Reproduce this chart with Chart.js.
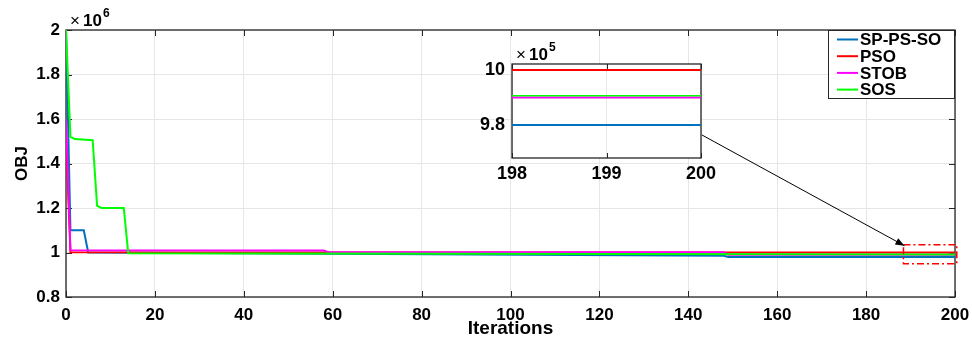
<!DOCTYPE html>
<html>
<head>
<meta charset="utf-8">
<script src="https://cdn.jsdelivr.net/npm/chart.js@4.4.0/dist/chart.umd.min.js"></script>
<style>
    html, body { margin: 0; padding: 0; background: #fff; }
    #wrap { position: relative; width: 972px; height: 339px; }
    #mainChart { position: absolute; left: 0; top: 0; }
    #insetChart { position: absolute; left: 465px; top: 40px; }
</style>
</head>
<body>
<div id="wrap">
    <canvas id="mainChart" width="972" height="339"></canvas>
    <canvas id="insetChart" width="255" height="145"></canvas>
</div>
<script>
// Convergence curves (OBJ vs iterations)
const seriesNames = ['SP-PS-SO', 'PSO', 'STOB', 'SOS'];
const seriesColors = ['#0072BD', '#FF0000', '#FF00FF', '#00FF00'];

const spIters = [0, 1, 4, 5, 148, 149, 200];
const spObj = [2.0e6, 1.1e6, 1.1e6, 1.0e6, 0.985e6, 0.980e6, 0.980e6];

const psoIters = [0, 1, 200];
const psoObj = [1.52e6, 1.001e6, 1.000e6];

const stobIters = [0, 1, 58, 59, 148, 149, 200];
const stobObj = [1.6e6, 1.01e6, 1.009e6, 1.001e6, 1.001e6, 0.990e6, 0.990e6];

const sosIters = [0, 1, 2, 6, 7, 8, 13, 14, 200];
const sosObj = [2.0e6, 1.52e6, 1.51e6, 1.505e6, 1.21e6, 1.2e6, 1.2e6, 0.997e6, 0.9907e6];

// Axis ticks
const mainXTicks = [0, 20, 40, 60, 80, 100, 120, 140, 160, 180, 200];
const mainYTicks = [0.8e6, 1.0e6, 1.2e6, 1.4e6, 1.6e6, 1.8e6, 2.0e6];
const insetXTicks = [198, 199, 200];
const insetYTicks = [9.8e5, 10.0e5];

// Zoom box and arrow (main data coordinates)
const zoomBox = { x0: 188.4, x1: 200.4, y0: 0.95e6, y1: 1.035e6 };
const arrowFrom = { x: 142.9, y: 1.53e6 };

const FONT = "'Liberation Sans', Arial, Helvetica, sans-serif";
const AXIS_COLOR = '#262626';
const GRID_COLOR = '#e6e6e6';

function buildDatasets() {
    const iters = [spIters, psoIters, stobIters, sosIters];
    const objs = [spObj, psoObj, stobObj, sosObj];
    return seriesNames.map((name, i) => ({
        label: name,
        data: iters[i].map((x, j) => ({ x: x, y: objs[i][j] })),
        borderColor: seriesColors[i],
        backgroundColor: seriesColors[i],
        borderWidth: 2,
        pointRadius: 0,
        fill: false,
        tension: 0,
        order: seriesNames.length - i   // later series painted on top
    }));
}

function fixedTicks(list) {
    return function(scale) {
        scale.ticks = list.map(v => ({ value: v }));
    };
}

/**
 * MATLAB-like axes: white plot area, box and inward tick marks
 */
const matlabAxes = {
    id: 'matlabAxes',
    beforeDraw(chart) {
        const { ctx, chartArea: a } = chart;
        ctx.save();
        ctx.fillStyle = '#fff';
        ctx.fillRect(a.left, a.top, a.right - a.left, a.bottom - a.top);
        ctx.restore();
    },
    beforeDatasetsDraw(chart, args, opts) {
        const { ctx, chartArea: a, scales } = chart;
        const len = opts.tickLength || 5;
        ctx.save();
        ctx.strokeStyle = AXIS_COLOR;
        ctx.lineWidth = 1;
        ctx.beginPath();
        scales.x.ticks.forEach(t => {
            const px = Math.round(scales.x.getPixelForValue(t.value)) + 0.5;
            ctx.moveTo(px, a.bottom); ctx.lineTo(px, a.bottom - len);
            ctx.moveTo(px, a.top); ctx.lineTo(px, a.top + len);
        });
        scales.y.ticks.forEach(t => {
            const py = Math.round(scales.y.getPixelForValue(t.value)) + 0.5;
            ctx.moveTo(a.left, py); ctx.lineTo(a.left + len, py);
            ctx.moveTo(a.right, py); ctx.lineTo(a.right - len, py);
        });
        ctx.stroke();
        ctx.lineWidth = 1.3;
        ctx.strokeRect(a.left, a.top, a.right - a.left, a.bottom - a.top);
        ctx.restore();
    },
    afterDraw(chart, args, opts) {
        // exponent label, e.g. x10^6
        const { ctx, chartArea: a } = chart;
        const base = a.top - 4;
        ctx.save();
        ctx.fillStyle = '#000';
        ctx.textBaseline = 'alphabetic';
        ctx.textAlign = 'left';
        ctx.font = `17px ${FONT}`;
        ctx.fillText('\u00d7', a.left + 4, base);
        ctx.font = `bold 17px ${FONT}`;
        ctx.fillText('10', a.left + 17, base);
        const w = ctx.measureText('10').width;
        ctx.font = `bold 12px ${FONT}`;
        ctx.fillText(opts.exponent, a.left + 17 + w + 1, base - 9);
        ctx.restore();
    }
};

/**
 * Legend box in the upper right corner of the plot
 */
const boxLegend = {
    id: 'boxLegend',
    afterDraw(chart) {
        const { ctx, chartArea: a } = chart;
        const left = a.right - 127, top = a.top, w = 126, h = 68;
        ctx.save();
        ctx.fillStyle = '#fff';
        ctx.fillRect(left, top, w, h);
        ctx.strokeStyle = AXIS_COLOR;
        ctx.lineWidth = 1;
        ctx.strokeRect(left + 0.5, top + 0.5, w, h);
        ctx.font = `bold 17px ${FONT}`;
        ctx.textBaseline = 'middle';
        ctx.textAlign = 'left';
        chart.data.datasets.forEach((ds, i) => {
            const y = top + 9.5 + i * 16.7;
            ctx.strokeStyle = ds.borderColor;
            ctx.lineWidth = 2;
            ctx.beginPath();
            ctx.moveTo(left + 9, y);
            ctx.lineTo(left + 30, y);
            ctx.stroke();
            ctx.fillStyle = '#000';
            ctx.fillText(ds.label, left + 32, y + 1);
        });
        ctx.restore();
    }
};

/**
 * Red dash-dot zoom box and the arrow from the inset
 */
const zoomMarker = {
    id: 'zoomMarker',
    afterDraw(chart) {
        const { ctx, scales: { x, y } } = chart;
        const bx0 = x.getPixelForValue(zoomBox.x0), bx1 = x.getPixelForValue(zoomBox.x1);
        const by0 = y.getPixelForValue(zoomBox.y1), by1 = y.getPixelForValue(zoomBox.y0);
        ctx.save();
        ctx.strokeStyle = '#FF0000';
        ctx.lineWidth = 1.5;
        ctx.setLineDash([7, 3, 2, 3]);
        ctx.strokeRect(bx0, by0, bx1 - bx0, by1 - by0);
        ctx.setLineDash([]);

        const sx = x.getPixelForValue(arrowFrom.x), sy = y.getPixelForValue(arrowFrom.y);
        const ex = bx0 + 1, ey = by0 + 1;
        const ang = Math.atan2(ey - sy, ex - sx);
        ctx.strokeStyle = '#000';
        ctx.lineWidth = 1;
        ctx.beginPath();
        ctx.moveTo(sx, sy);
        ctx.lineTo(ex, ey);
        ctx.stroke();
        ctx.fillStyle = '#000';
        ctx.beginPath();
        ctx.moveTo(ex, ey);
        ctx.lineTo(ex - 9 * Math.cos(ang) + 3.5 * Math.sin(ang), ey - 9 * Math.sin(ang) - 3.5 * Math.cos(ang));
        ctx.lineTo(ex - 9 * Math.cos(ang) - 3.5 * Math.sin(ang), ey - 9 * Math.sin(ang) + 3.5 * Math.cos(ang));
        ctx.closePath();
        ctx.fill();
        ctx.restore();
    }
};

function fmtMillions(v) {
    return String(Math.round(v / 1e5) / 10);
}

function fmtHundredK(v) {
    return String(Math.round(v / 1e4) / 10);
}

// keep the plot box where the layout padding puts it
function fitX(height) {
    return function(s) {
        s.height = height;
        s.paddingLeft = 0;
        s.paddingRight = 0;
    };
}

const mainChart = new Chart(document.getElementById('mainChart'), {
    type: 'line',
    data: { datasets: buildDatasets() },
    plugins: [matlabAxes, boxLegend, zoomMarker],
    options: {
        responsive: false,
        animation: false,
        layout: { padding: { top: 30, right: 17, left: 0, bottom: 0 } },
        plugins: {
            legend: { display: false },
            tooltip: { enabled: false },
            matlabAxes: { exponent: '6', tickLength: 6 }
        },
        scales: {
            x: {
                type: 'linear',
                min: 0,
                max: 200,
                afterBuildTicks: fixedTicks(mainXTicks),
                afterFit: fitX(42),
                ticks: { color: '#000', padding: 8, maxRotation: 0, font: { family: FONT, size: 17, weight: 'bold' } },
                grid: { color: GRID_COLOR, drawTicks: false },
                border: { display: false },
                title: {
                    display: true, text: 'Iterations', color: '#000',
                    font: { family: FONT, size: 19, weight: 'bold' },
                    padding: { top: 0, bottom: -1 }
                }
            },
            y: {
                type: 'linear',
                min: 0.8e6,
                max: 2.0e6,
                afterBuildTicks: fixedTicks(mainYTicks),
                afterFit: s => { s.width = 66; },
                ticks: { color: '#000', padding: 6, callback: fmtMillions, font: { family: FONT, size: 17, weight: 'bold' } },
                grid: { color: GRID_COLOR, drawTicks: false },
                border: { display: false },
                title: {
                    display: true, text: 'OBJ', color: '#000',
                    font: { family: FONT, size: 17, weight: 'bold' },
                    padding: { top: 12, bottom: 0 }
                }
            }
        }
    }
});

const insetChart = new Chart(document.getElementById('insetChart'), {
    type: 'line',
    data: { datasets: buildDatasets() },
    plugins: [matlabAxes],
    options: {
        responsive: false,
        animation: false,
        layout: { padding: { top: 24, right: 19, left: 0, bottom: 0 } },
        plugins: {
            legend: { display: false },
            tooltip: { enabled: false },
            matlabAxes: { exponent: '5', tickLength: 5 }
        },
        scales: {
            x: {
                type: 'linear',
                min: 198,
                max: 200,
                afterBuildTicks: fixedTicks(insetXTicks),
                afterFit: fitX(27),
                ticks: { color: '#000', padding: 5, maxRotation: 0, font: { family: FONT, size: 18, weight: 'bold' } },
                grid: { color: GRID_COLOR, drawTicks: false },
                border: { display: false }
            },
            y: {
                type: 'linear',
                min: 968000,
                max: 1002200,
                afterBuildTicks: fixedTicks(insetYTicks),
                afterFit: s => { s.width = 47; },
                ticks: { color: '#000', padding: 7, callback: fmtHundredK, font: { family: FONT, size: 18, weight: 'bold' } },
                grid: { color: GRID_COLOR, drawTicks: false },
                border: { display: false }
            }
        }
    }
});
</script>
</body>
</html>
